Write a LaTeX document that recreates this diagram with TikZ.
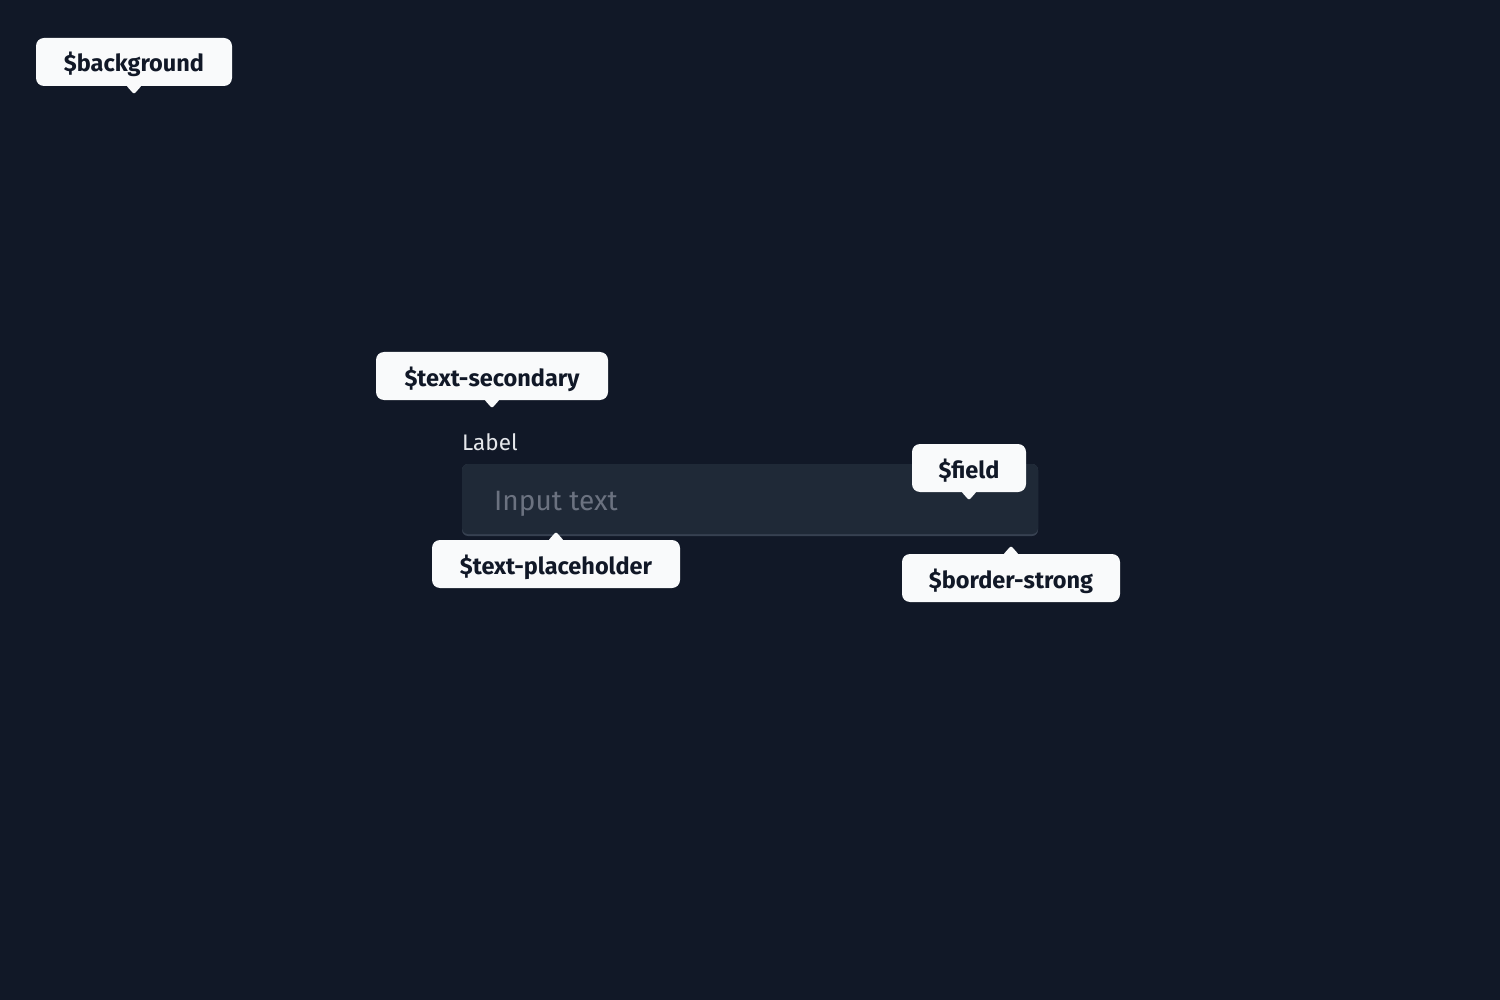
\documentclass[tikz,border=0pt]{standalone}
\usepackage{fontspec}
\setmainfont{Fira Sans}

\definecolor{bgdark}{HTML}{111827}
\definecolor{fieldfill}{HTML}{1F2937}
\definecolor{borderstrong}{HTML}{374151}
\definecolor{placeholder}{HTML}{6B7280}
\definecolor{labeltext}{HTML}{E5E7EB}
\definecolor{tagfill}{HTML}{F9FAFB}
\definecolor{tagtext}{HTML}{111827}

\begin{document}
\begin{tikzpicture}[x=1pt,y=-1pt,
  tag/.style={fill=tagfill,text=tagtext,rounded corners=8pt,minimum height=48pt,
    inner sep=0pt,text height=25pt,text depth=5pt,
    font=\fontsize{23.5}{28}\selectfont\bfseries},
  tip/.style={fill=tagfill,rounded corners=2pt}]

  \fill[bgdark] (0,0) rectangle (1500,1000);

  % input field
  \fill[borderstrong,rounded corners=6pt] (462,464) rectangle (1038,536);
  \node (FIELD) at (750,499) [fill=fieldfill,rounded corners=6pt,minimum width=576pt,
    minimum height=70pt,inner sep=0pt] {};
  \node (LABEL) at (462,450) [anchor=base west,inner sep=0pt,text=labeltext,
    font=\fontsize{22.5}{26}\selectfont] {Label};
  \node (INPUT) at (494,510) [anchor=base west,inner sep=0pt,text=placeholder,
    font=\fontsize{28}{32}\selectfont] {Input text};

  % tags pointing down
  \node (BG) at (134,62) [tag,minimum width=196pt] {\$background};
  \node (SEC) at (492,376) [tag,minimum width=232pt] {\$text-secondary};
  \node (FLD) at (969,468) [tag,minimum width=114pt] {\$field};
  \foreach \t in {BG,SEC,FLD} {
    \fill[tip] ([xshift=-8pt,yshift=1pt]\t.south) -- ([xshift=8pt,yshift=1pt]\t.south)
      -- ([yshift=-8pt]\t.south) -- cycle;
  }

  % tags pointing up
  \node (PH) at (556,564) [tag,minimum width=248pt] {\$text-placeholder};
  \node (BRD) at (1011,578) [tag,minimum width=218pt] {\$border-strong};
  \foreach \t in {PH,BRD} {
    \fill[tip] ([xshift=-8pt,yshift=-1pt]\t.north) -- ([xshift=8pt,yshift=-1pt]\t.north)
      -- ([yshift=8pt]\t.north) -- cycle;
  }

\end{tikzpicture}
\end{document}
